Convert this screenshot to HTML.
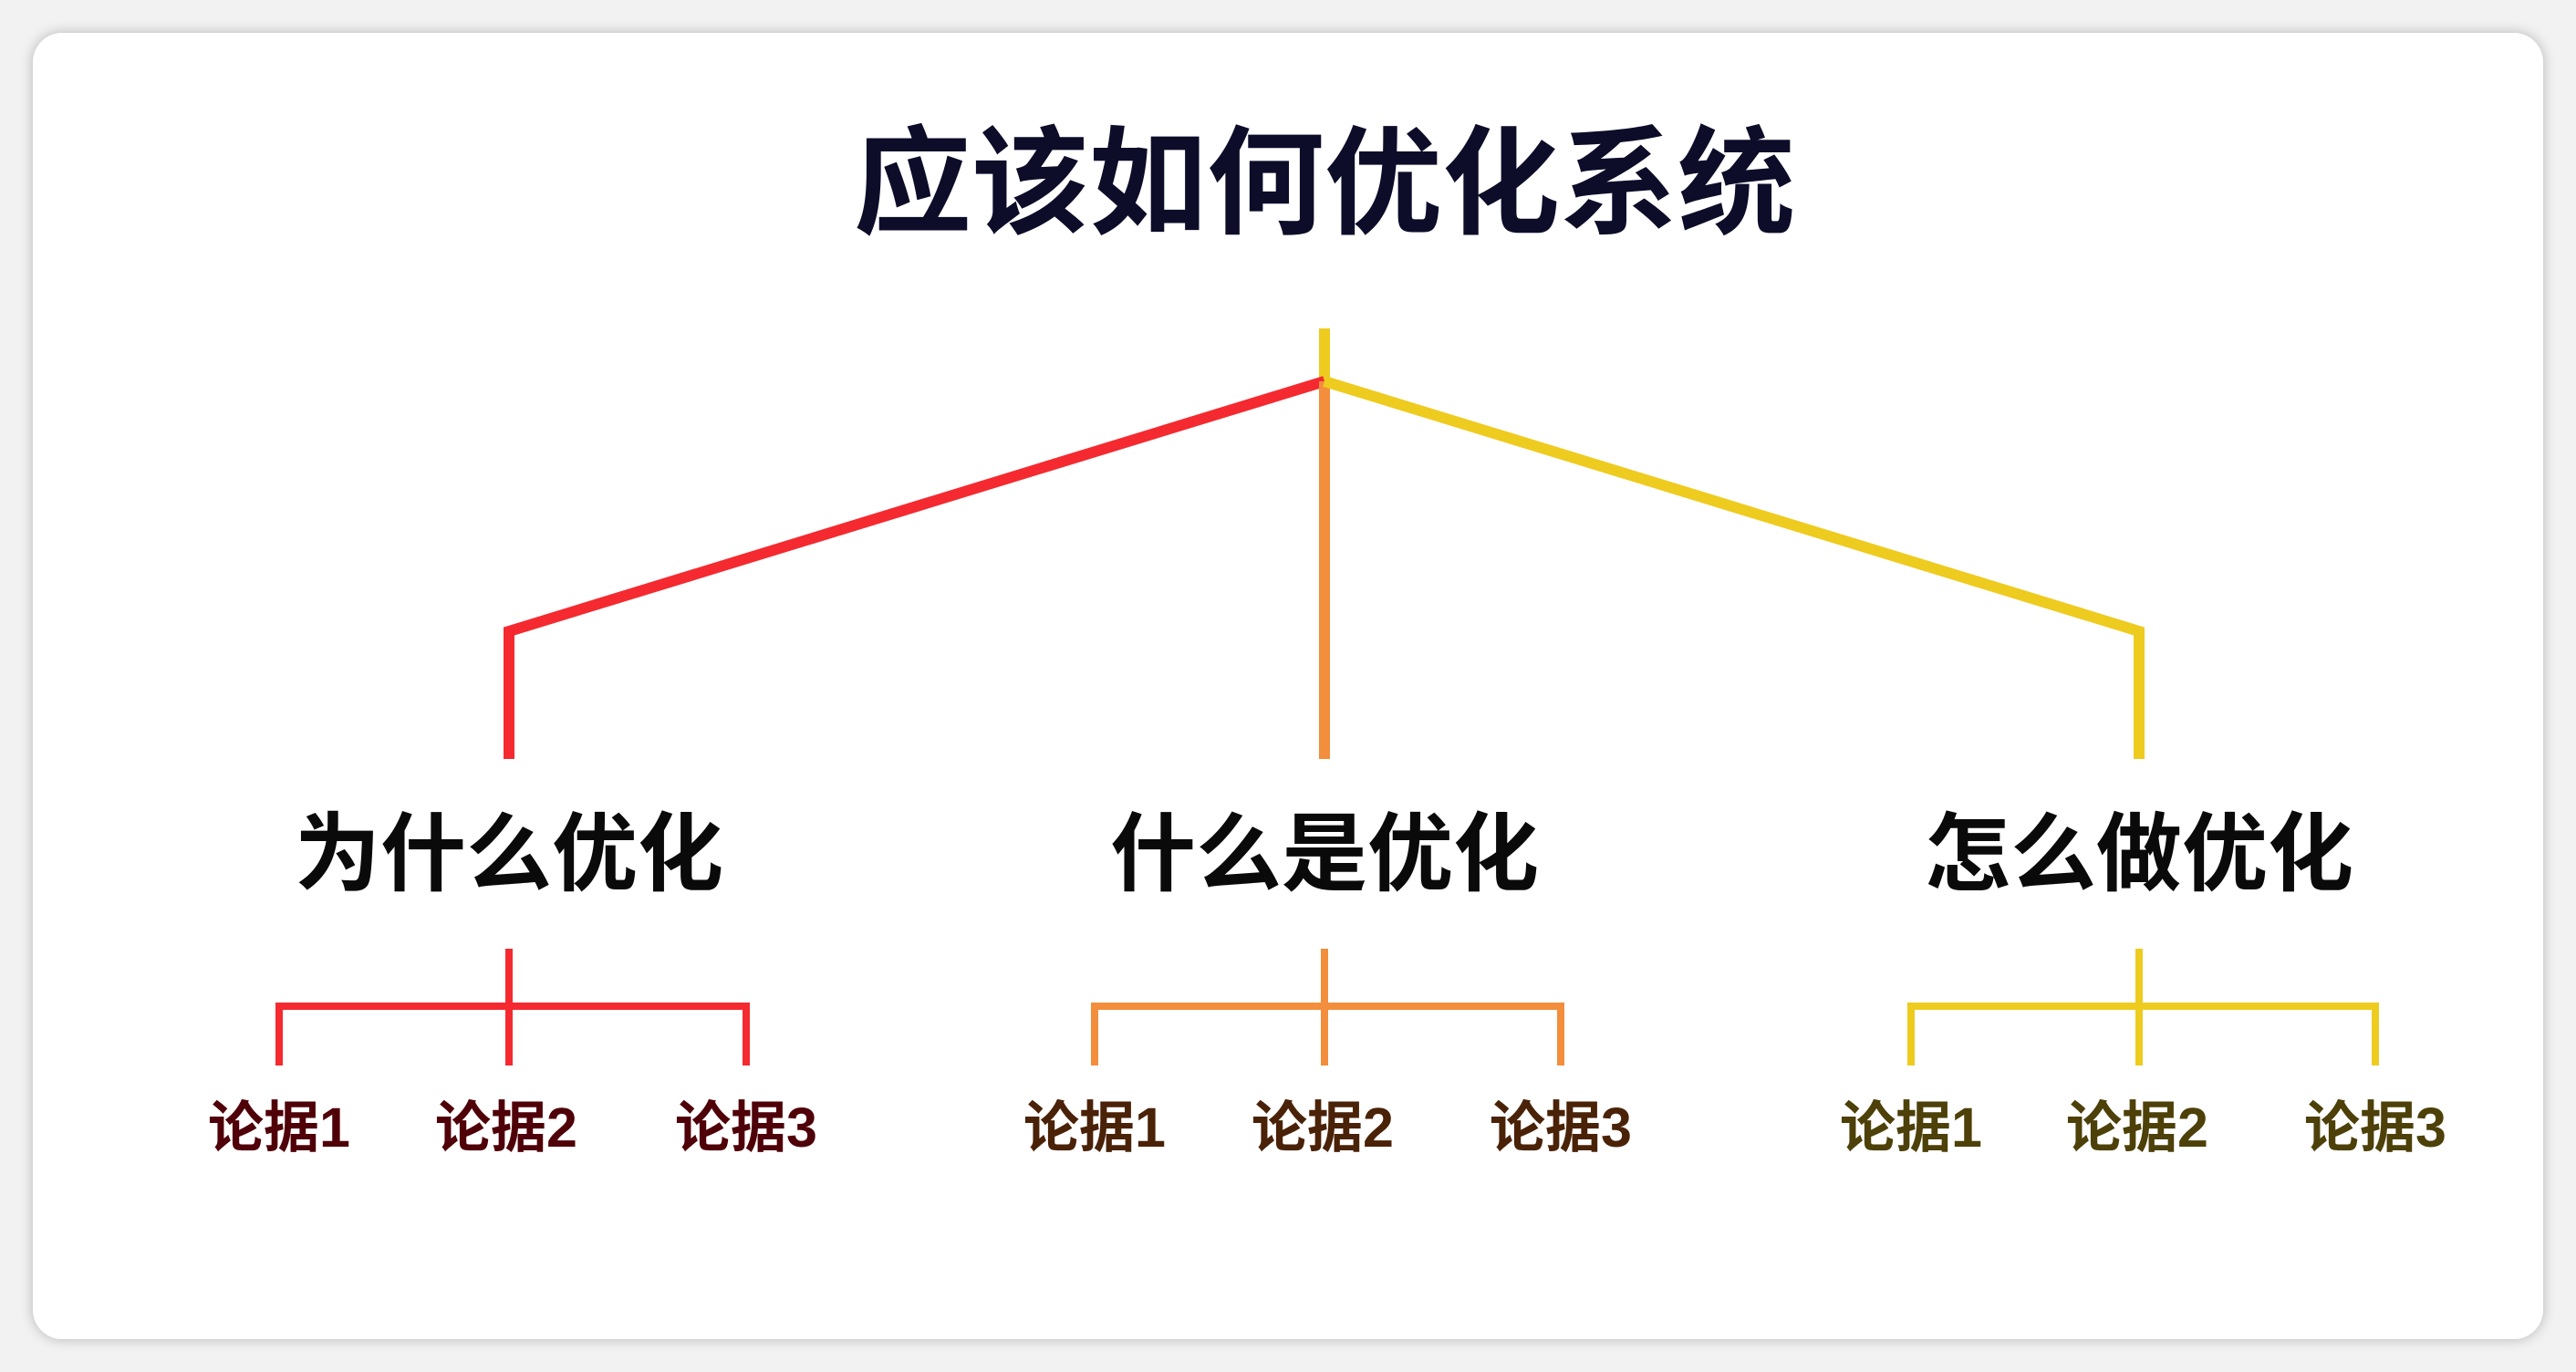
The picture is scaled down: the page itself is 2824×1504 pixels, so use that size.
<!DOCTYPE html>
<html><head><meta charset="utf-8">
<style>
html,body{margin:0;padding:0;width:2824px;height:1504px;background:#f2f2f2;overflow:hidden}
#card{position:absolute;left:36px;top:36px;width:2752px;height:1432px;background:#fff;border-radius:32px;box-shadow:0 0 14px rgba(0,0,0,0.25)}
svg{position:absolute;left:0;top:0}
text{font-family:"Liberation Sans","Noto Sans CJK SC",sans-serif;font-weight:bold;text-anchor:middle;dominant-baseline:central}
</style></head>
<body>
<div id="card"></div>
<svg width="2824" height="1504">
  <text x="1452" y="202" font-size="129" fill="#0d0d2a">应该如何优化系统</text>
  <g fill="none" stroke-width="12" stroke-linejoin="miter">
    <line x1="1452" y1="360" x2="1452" y2="420" stroke="#eecb1f"/>
    <polyline points="1452,418 558,692 558,832" stroke="#f42a30"/>
    <line x1="1452" y1="418" x2="1452" y2="832" stroke="#f28e3c"/>
    <polyline points="1452,418 2345,692 2345,832" stroke="#eecb1f"/>
  </g>
  <text x="558" y="936" font-size="94" fill="#0a0a0a">为什么优化</text>
  <text x="1452" y="936" font-size="94" fill="#0a0a0a">什么是优化</text>
  <text x="2345" y="936" font-size="94" fill="#0a0a0a">怎么做优化</text>
  <g fill="none" stroke-width="8">
    <g stroke="#f42a30">
      <line x1="558" y1="1040" x2="558" y2="1168"/><polyline points="306,1168 306,1103 818,1103 818,1168"/>
    </g>
    <g stroke="#f28e3c">
      <line x1="1452" y1="1040" x2="1452" y2="1168"/><polyline points="1200,1168 1200,1103 1711,1103 1711,1168"/>
    </g>
    <g stroke="#eecb1f">
      <line x1="2345" y1="1040" x2="2345" y2="1168"/><polyline points="2095,1168 2095,1103 2604,1103 2604,1168"/>
    </g>
  </g>
  <g font-size="61">
    <text x="306" y="1236" fill="#4f0008">论据1</text>
    <text x="555" y="1236" fill="#4f0008">论据2</text>
    <text x="818" y="1236" fill="#4f0008">论据3</text>
    <text x="1200" y="1236" fill="#4a2208">论据1</text>
    <text x="1450" y="1236" fill="#4a2208">论据2</text>
    <text x="1711" y="1236" fill="#4a2208">论据3</text>
    <text x="2095" y="1236" fill="#4d4008">论据1</text>
    <text x="2343" y="1236" fill="#4d4008">论据2</text>
    <text x="2604" y="1236" fill="#4d4008">论据3</text>
  </g>
</svg>
</body></html>
